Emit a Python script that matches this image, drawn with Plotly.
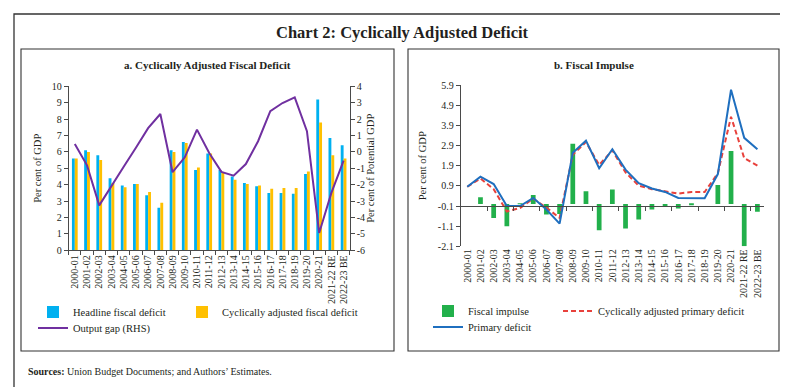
import plotly.graph_objects as go

CATEGORIES = ["2000-01", "2001-02", "2002-03", "2003-04", "2004-05", "2005-06", "2006-07",
              "2007-08", "2008-09", "2009-10", "2010-11", "2011-12", "2012-13", "2013-14",
              "2014-15", "2015-16", "2016-17", "2017-18", "2018-19", "2019-20", "2020-21",
              "2021-22 RE", "2022-23 BE"]

# Panel a (per cent of GDP / per cent of potential GDP)
HEADLINE_FD = [5.6, 6.1, 5.8, 4.4, 3.95, 4.05, 3.35, 2.6, 6.1, 6.6, 4.9, 5.9, 4.9, 4.5,
               4.1, 3.9, 3.5, 3.5, 3.45, 4.65, 9.2, 6.85, 6.4]
CA_FD = [5.6, 6.0, 5.5, 4.1, 3.85, 4.05, 3.55, 2.9, 6.0, 6.55, 5.05, 5.9, 4.75, 4.3,
         4.05, 3.95, 3.75, 3.8, 3.8, 4.8, 7.8, 5.8, 5.6]
OUTPUT_GAP = [0.48, -0.82, -3.26, -2.05, -0.9, 0.25, 1.45, 2.31, -1.24, -0.33, 1.36, -0.07,
              -1.22, -1.45, -0.74, 0.65, 2.48, 2.98, 3.33, 1.26, -4.94, -2.5, -0.53]

# Panel b (per cent of GDP)
FISCAL_IMPULSE = [0.0, 0.34, -0.69, -1.1, 0.03, 0.45, -0.52, -0.5, 3.0, 0.64, -1.3, 0.72,
                  -1.22, -0.77, -0.27, -0.15, -0.22, -0.03, 0.0, 0.94, 2.63, -2.1, -0.38]
CA_PRIMARY_DEF = [0.86, 1.27, 0.74, -0.37, -0.2, 0.27, -0.18, -0.69, 2.45, 3.08, 1.94, 2.67,
                  1.57, 0.91, 0.74, 0.64, 0.52, 0.6, 0.6, 1.53, 4.34, 2.28, 1.91]
PRIMARY_DEF = [0.86, 1.36, 0.99, -0.1, -0.1, 0.30, -0.27, -0.97, 2.55, 3.15, 1.78, 2.72,
               1.71, 1.04, 0.77, 0.6, 0.30, 0.30, 0.29, 1.49, 5.68, 3.29, 2.72]

Y_TICKS_A = [0, 1, 2, 3, 4, 5, 6, 7, 8, 9, 10]
Y2_TICKS_A = [-6, -5, -4, -3, -2, -1, 0, 1, 2, 3, 4]
Y_TICKS_B = [-2.1, -1.1, -0.1, 0.9, 1.9, 2.9, 3.9, 4.9, 5.9]

W, H = 788, 387
FONT = "Liberation Serif"
TXT = "#231F20"
AX = "#4a4a4a"


def px(x):
    return x / W


def py(y):
    return 1 - y / H


A_DOM_X = [px(60.7), px(341.7)]
A_DOM_Y = [py(242.3), py(78.3)]
B_DOM_X = [px(452.7), px(756.0)]
B_DOM_Y = [py(238.3), py(77.3)]
B_ZERO_POS = B_DOM_Y[0] + (-0.1 - Y_TICKS_B[0]) / (Y_TICKS_B[-1] - Y_TICKS_B[0]) * (B_DOM_Y[1] - B_DOM_Y[0])

fig = go.Figure()
fig.add_trace(go.Bar(x=CATEGORIES, y=HEADLINE_FD, name="Headline fiscal deficit",
                     marker=dict(color="#00B0F0", line_width=0), xaxis="x", yaxis="y", legend="legend"))
fig.add_trace(go.Bar(x=CATEGORIES, y=CA_FD, name="Cyclically adjusted fiscal deficit",
                     marker=dict(color="#FFC000", line_width=0), xaxis="x", yaxis="y", legend="legend2"))
fig.add_trace(go.Scatter(x=CATEGORIES, y=OUTPUT_GAP, name="Output gap (RHS)", mode="lines",
                         line=dict(color="#7030A0", width=2), xaxis="x", yaxis="y2", legend="legend3"))

fig.add_trace(go.Bar(x=CATEGORIES, y=FISCAL_IMPULSE, name="Fiscal impulse", width=0.36,
                     marker=dict(color="#22B04B", line_width=0), xaxis="x2", yaxis="y3", legend="legend4"))
fig.add_trace(go.Scatter(x=CATEGORIES, y=CA_PRIMARY_DEF, name="Cyclically adjusted primary deficit",
                         mode="lines", line=dict(color="#E8413C", width=2, dash="5px,3px"),
                         xaxis="x3", yaxis="y3", legend="legend5"))
fig.add_trace(go.Scatter(x=CATEGORIES, y=PRIMARY_DEF, name="Primary deficit", mode="lines",
                         line=dict(color="#1F6FBF", width=2), xaxis="x3", yaxis="y3", legend="legend6"))

tickfont = dict(family=FONT, size=10, color=TXT)
titlefont = dict(family=FONT, size=10.5, color=TXT)

common_axis = dict(showgrid=False, zeroline=False, automargin=False, tickfont=tickfont,
                   linecolor=AX, tickcolor=AX, ticklen=4, tickwidth=1, linewidth=1)

fig.update_layout(
    width=W, height=H, margin=dict(l=0, r=0, t=0, b=0),
    paper_bgcolor="white", plot_bgcolor="rgba(0,0,0,0)",
    font=dict(family=FONT, size=10, color=TXT),
    showlegend=True,
    barmode="group", bargap=0.53, bargroupgap=0,
    xaxis=dict(common_axis, domain=A_DOM_X, anchor="y", type="category", range=[-0.5, 22.5],
               showline=True, ticks="outside", tickson="boundaries", tickangle=-90),
    yaxis=dict(common_axis, domain=A_DOM_Y, anchor="x", range=[0, 10], tickvals=Y_TICKS_A,
               ticktext=[str(v) for v in Y_TICKS_A], showline=True, ticks="outside",
               title=dict(text="Per cent of GDP", font=titlefont, standoff=8)),
    yaxis2=dict(common_axis, overlaying="y", side="right", anchor="x", range=[-6, 4],
                tickvals=Y2_TICKS_A, ticktext=[str(v) for v in Y2_TICKS_A], showline=True,
                ticks="outside",
                title=dict(text="Per cent of Potential GDP", font=titlefont, standoff=1)),
    xaxis2=dict(common_axis, domain=B_DOM_X, anchor="free", position=B_ZERO_POS, type="category",
                range=[-0.5, 22.5], showline=True, ticks="outside", tickson="boundaries",
                showticklabels=False),
    xaxis3=dict(common_axis, overlaying="x2", anchor="y3", side="bottom", type="category",
                range=[-0.5, 22.5], showline=False, ticks="", showticklabels=True, tickangle=-90),
    yaxis3=dict(common_axis, domain=B_DOM_Y, anchor="x2", range=[Y_TICKS_B[0], Y_TICKS_B[-1]],
                tickvals=Y_TICKS_B, ticktext=[f"{v:.1f}" for v in Y_TICKS_B], showline=True,
                ticks="outside",
                title=dict(text="Per cent of GDP", font=titlefont, standoff=9)),
)

leg_common = dict(orientation="h", xanchor="left", yanchor="middle", bgcolor="rgba(0,0,0,0)",
                  borderwidth=0, font=dict(family=FONT, size=10.5, color=TXT), itemwidth=30,
                  visible=True)
LX, LY = 48, 8  # legend text offset inside legend box
fig.update_layout(
    legend=dict(leg_common, x=px(73 - LX), y=py(312 - LY)),
    legend2=dict(leg_common, x=px(222 - LX), y=py(312 - LY)),
    legend3=dict(leg_common, x=px(73 - LX), y=py(328 - LY)),
    legend4=dict(leg_common, x=px(468 - LX), y=py(311 - LY)),
    legend5=dict(leg_common, x=px(598 - LX), y=py(311 - LY)),
    legend6=dict(leg_common, x=px(468 - LX), y=py(327 - LY)),
)

# frames
shapes = [
    dict(type="rect", xref="paper", yref="paper", x0=px(6), x1=px(782), y0=py(380), y1=py(6),
         line=dict(color="#333", width=1.3)),
    dict(type="rect", xref="paper", yref="paper", x0=px(13), x1=px(386), y0=py(343), y1=py(41),
         line=dict(color="#333", width=1.1)),
    dict(type="rect", xref="paper", yref="paper", x0=px(400), x1=px(771), y0=py(343), y1=py(41),
         line=dict(color="#333", width=1.1)),
]
fig.update_layout(shapes=shapes)

annotations = [
    dict(text="<b>Chart 2: Cyclically Adjusted Deficit</b>", x=px(394), y=py(25), xref="paper", yref="paper",
         showarrow=False, xanchor="center", yanchor="middle", font=dict(family=FONT, size=16.5, color=TXT)),
    dict(text="<b>a. Cyclically Adjusted Fiscal Deficit</b>", x=px(199), y=py(57), xref="paper", yref="paper",
         showarrow=False, xanchor="center", yanchor="middle", font=dict(family=FONT, size=11, color=TXT)),
    dict(text="<b>b. Fiscal Impulse</b>", x=px(586), y=py(57), xref="paper", yref="paper",
         showarrow=False, xanchor="center", yanchor="middle", font=dict(family=FONT, size=11, color=TXT)),
    dict(text="<b>Sources:</b> Union Budget Documents; and Authors’ Estimates.", x=px(18), y=py(363),
         xref="paper", yref="paper", showarrow=False, xanchor="left", yanchor="middle",
         font=dict(family=FONT, size=10, color=TXT)),
]
fig.update_layout(annotations=annotations)

fig.write_html("out.html")
